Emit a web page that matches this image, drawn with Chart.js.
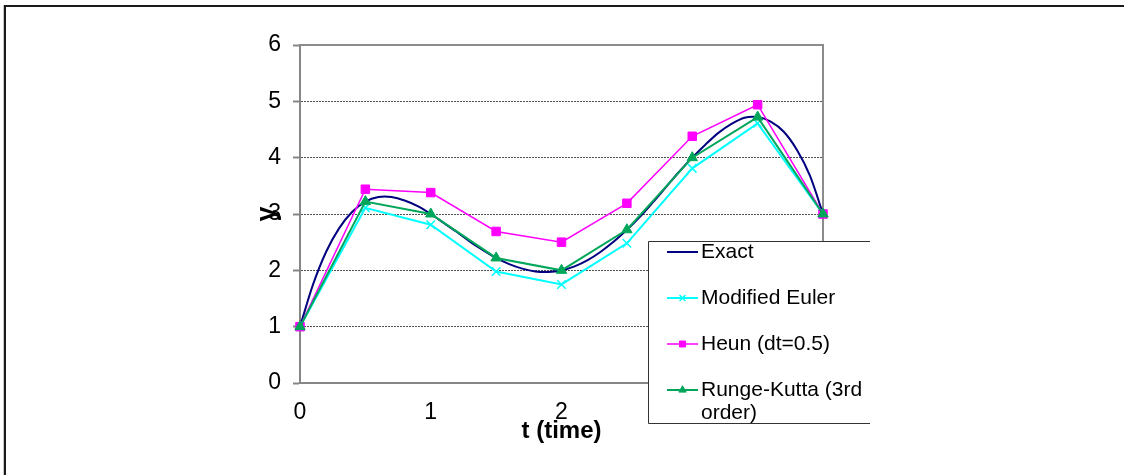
<!DOCTYPE html>
<html>
<head>
<meta charset="utf-8">
<script src="https://cdn.jsdelivr.net/npm/chart.js@4/dist/chart.umd.min.js"></script>
<style>
  html, body { margin: 0; padding: 0; background: #fff; }
  #wrap { width: 1124px; height: 475px; position: relative; }
  canvas { display: block; }
</style>
</head>
<body>
<div id="wrap"><canvas id="c" width="1124" height="475"></canvas></div>
<script>
// ---- data ----
const tExact = [0, 0.1, 0.2, 0.3, 0.4, 0.5, 0.6, 0.7, 0.8, 0.9, 1.0, 1.1, 1.2, 1.3, 1.4, 1.5, 1.6, 1.7, 1.8, 1.9, 2.0,
                2.1, 2.2, 2.3, 2.4, 2.5, 2.6, 2.7, 2.8, 2.9, 3.0, 3.1, 3.2, 3.3, 3.4, 3.5, 3.6, 3.7, 3.8, 3.9, 4.0];
const yExact = [1.0, 1.75, 2.33, 2.75, 3.04, 3.22, 3.30, 3.30, 3.24, 3.14, 3.0, 2.84, 2.68, 2.51, 2.36, 2.22, 2.11, 2.03, 1.98, 1.97, 2.0,
                2.07, 2.18, 2.33, 2.51, 2.72, 2.95, 3.21, 3.48, 3.75, 4.0, 4.23, 4.44, 4.60, 4.71, 4.72, 4.64, 4.46, 4.14, 3.68, 3.0];
const tSteps = [0, 0.5, 1, 1.5, 2, 2.5, 3, 3.5, 4];
const yModEuler = [1, 3.11, 2.81, 1.98, 1.75, 2.48, 3.81, 4.61, 3.0];
const yHeun = [1, 3.44, 3.38, 2.69, 2.5, 3.19, 4.38, 4.94, 3.0];
const yRK3 = [1, 3.22, 3.0, 2.22, 2.0, 2.72, 4.0, 4.72, 3.0];
const seriesNames = ['Exact', 'Modified Euler', 'Heun (dt=0.5)', 'Runge-Kutta (3rd order)'];
const yTicks = [0, 1, 2, 3, 4, 5, 6];
const xTicks = [0, 1, 2, 3, 4];
const xTitle = 't (time)';
const yTitle = 'y';

const FONT = "'Liberation Sans', Arial, Helvetica, sans-serif";
const pts = (xs, ys) => xs.map((x, i) => ({ x: x, y: ys[i] }));

const framePlugin = {
  id: 'frame',
  beforeDraw(chart) {
    const ctx = chart.ctx;
    ctx.save();
    ctx.fillStyle = '#ffffff';
    ctx.fillRect(0, 0, chart.width, chart.height);
    ctx.fillStyle = '#c8c8c8';
    ctx.fillRect(3, 5, 1, chart.height - 5);
    ctx.fillStyle = '#1a1a1a';
    ctx.fillRect(4, 5, chart.width - 4, 2);
    ctx.fillRect(4, 5, 2, chart.height - 5);
    ctx.restore();
  },
  beforeDatasetsDraw(chart) {
    const { ctx, chartArea: a } = chart;
    ctx.save();
    ctx.strokeStyle = '#8c8c8c';
    ctx.lineWidth = 2;
    ctx.beginPath();
    ctx.moveTo(a.left, a.top);
    ctx.lineTo(a.right, a.top);
    ctx.lineTo(a.right, a.bottom);
    ctx.stroke();
    ctx.restore();
  }
};

const legendPlugin = {
  id: 'boxLegend',
  afterDraw(chart) {
    const ctx = chart.ctx;
    const bx = 648, by = 241, br = 870, bb = 423;
    ctx.save();
    ctx.fillStyle = '#ffffff';
    ctx.fillRect(bx, by, br - bx, bb - by);
    ctx.strokeStyle = '#333333';
    ctx.lineWidth = 1;
    ctx.beginPath();
    ctx.moveTo(br, by + 0.5);
    ctx.lineTo(bx + 0.5, by + 0.5);
    ctx.lineTo(bx + 0.5, bb + 0.5);
    ctx.lineTo(br, bb + 0.5);
    ctx.stroke();

    const rows = [252, 298, 344, 390];
    const lx1 = 667, lx2 = 698, tx = 701, maxW = 172;
    ctx.font = '21px ' + FONT;
    ctx.textBaseline = 'middle';
    ctx.textAlign = 'left';
    chart.data.datasets.forEach((ds, i) => {
      const y = rows[i];
      ctx.save();
      ctx.strokeStyle = ds.borderColor;
      ctx.lineWidth = ds.borderWidth;
      ctx.beginPath();
      ctx.moveTo(lx1, y);
      ctx.lineTo(lx2, y);
      ctx.stroke();
      if (ds.pointStyle && ds.pointRadius > 0) {
        ctx.fillStyle = ds.pointBackgroundColor;
        ctx.strokeStyle = ds.pointBorderColor;
        ctx.lineWidth = ds.pointBorderWidth;
        Chart.helpers.drawPoint(ctx, {
          pointStyle: ds.pointStyle,
          radius: ds.pointRadius * 0.7,
          borderWidth: ds.pointBorderWidth
        }, (lx1 + lx2) / 2, y);
      }
      ctx.restore();
      const words = ds.label.split(' ');
      const lines = [];
      let cur = '';
      words.forEach(w => {
        const test = cur ? cur + ' ' + w : w;
        if (ctx.measureText(test).width > maxW && cur) { lines.push(cur); cur = w; }
        else cur = test;
      });
      if (cur) lines.push(cur);
      ctx.fillStyle = '#000000';
      lines.forEach((ln, k) => ctx.fillText(ln, tx, y + k * 23));
    });
    ctx.restore();
  }
};

const ctx = document.getElementById('c').getContext('2d');
new Chart(ctx, {
  type: 'line',
  data: {
    datasets: [
      {
        label: seriesNames[0],
        data: pts(tExact, yExact),
        borderColor: '#000080',
        backgroundColor: '#000080',
        borderWidth: 2,
        pointRadius: 0,
        pointStyle: false,
        tension: 0.3,
        order: 4,
        clip: false
      },
      {
        label: seriesNames[1],
        data: pts(tSteps, yModEuler),
        borderColor: '#00FFFF',
        backgroundColor: '#00FFFF',
        borderWidth: 2,
        pointStyle: 'crossRot',
        pointRadius: 6,
        pointBorderWidth: 1.5,
        pointBorderColor: '#00FFFF',
        pointBackgroundColor: '#00FFFF',
        tension: 0,
        order: 3,
        clip: false
      },
      {
        label: seriesNames[2],
        data: pts(tSteps, yHeun),
        borderColor: '#FF00FF',
        backgroundColor: '#FF00FF',
        borderWidth: 1.5,
        pointStyle: 'rect',
        pointRadius: 6,
        pointBorderWidth: 1,
        pointBorderColor: '#FF00FF',
        pointBackgroundColor: '#FF00FF',
        tension: 0,
        order: 2,
        clip: false
      },
      {
        label: seriesNames[3],
        data: pts(tSteps, yRK3),
        borderColor: '#00A65A',
        backgroundColor: '#00A65A',
        borderWidth: 2,
        pointStyle: 'triangle',
        pointRadius: 6,
        pointBorderWidth: 1,
        pointBorderColor: '#00A65A',
        pointBackgroundColor: '#00A65A',
        tension: 0,
        order: 1,
        clip: false
      }
    ]
  },
  options: {
    responsive: false,
    animation: false,
    devicePixelRatio: 1,
    layout: { padding: { left: 251, top: 45, right: 301, bottom: 0 } },
    plugins: { legend: { display: false }, tooltip: { enabled: false } },
    scales: {
      x: {
        type: 'linear',
        min: 0, max: 4,
        afterBuildTicks: (s) => { s.ticks = xTicks.map(v => ({ value: v })); },
        afterFit: (s) => { s.height = 92; },
        grid: { display: false, drawTicks: false },
        border: { display: true, color: '#868686', width: 2 },
        ticks: { color: '#000', font: { family: FONT, size: 23 }, padding: 16, maxRotation: 0 },
        title: { display: true, text: xTitle, color: '#000', font: { family: FONT, size: 24, weight: 'bold' }, padding: { top: 0, bottom: 29 } }
      },
      y: {
        type: 'linear',
        min: 0, max: 6,
        afterBuildTicks: (s) => { s.ticks = yTicks.map(v => ({ value: v })); },
        afterFit: (s) => { s.width = 49; },
        grid: {
          color: (c) => (c.tick && (c.tick.value === 0 || c.tick.value === 6)) ? 'rgba(0,0,0,0)' : '#505050',
          lineWidth: 1,
          drawTicks: true,
          tickLength: 7,
          tickColor: '#868686',
          tickWidth: 2
        },
        border: { display: true, color: '#868686', width: 2, dash: [2, 1] },
        ticks: { color: '#000', font: { family: FONT, size: 23 }, padding: 12, autoSkip: false },
        title: { display: true, text: yTitle, color: '#000', font: { family: FONT, size: 27, weight: 'bold' }, padding: { top: 0, bottom: 0 } }
      }
    }
  },
  plugins: [framePlugin, legendPlugin]
});
</script>
</body>
</html>
